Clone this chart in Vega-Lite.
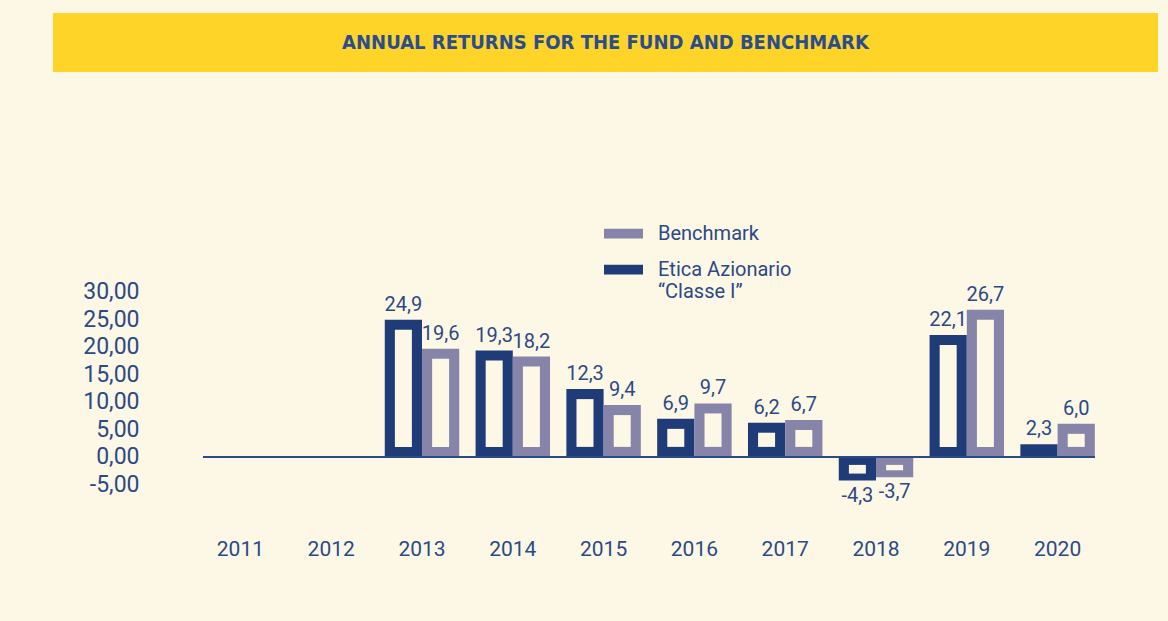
{
  "$schema": "https://vega.github.io/schema/vega-lite/v6.json",
  "background": "#fdf7e6",
  "padding": {"left": 53, "top": 13, "right": 10, "bottom": 64},
  "spacing": 142,
  "config": {
    "locale": {"number": {"decimal": ",", "thousands": ".", "grouping": [3], "currency": ["", " €"], "minus": "-"}},
    "view": {"stroke": null},
    "font": "Roboto",
    "axisY": {"labelOverlap": false}
  },
  "resolve": {"legend": {"color": "independent"}},
  "vconcat": [
    {
      "width": 1105,
      "height": 59,
      "view": {"fill": "#fed429", "stroke": null},
      "data": {"values": [{"t": "ANNUAL RETURNS FOR THE FUND AND BENCHMARK"}]},
      "mark": {"type": "text", "font": "DejaVu Sans Condensed", "fontSize": 20, "fontWeight": "bold", "color": "#2b4d8e"},
      "encoding": {"text": {"field": "t"}}
    },
    {
      "width": 1105,
      "height": 248,
      "data": {"values": [
        {"year": "2013", "series": "Etica Azionario \"Classe I\"", "value": 24.9},
        {"year": "2013", "series": "Benchmark", "value": 19.6},
        {"year": "2014", "series": "Etica Azionario \"Classe I\"", "value": 19.3},
        {"year": "2014", "series": "Benchmark", "value": 18.2},
        {"year": "2015", "series": "Etica Azionario \"Classe I\"", "value": 12.3},
        {"year": "2015", "series": "Benchmark", "value": 9.4},
        {"year": "2016", "series": "Etica Azionario \"Classe I\"", "value": 6.9},
        {"year": "2016", "series": "Benchmark", "value": 9.7},
        {"year": "2017", "series": "Etica Azionario \"Classe I\"", "value": 6.2},
        {"year": "2017", "series": "Benchmark", "value": 6.7},
        {"year": "2018", "series": "Etica Azionario \"Classe I\"", "value": -4.3},
        {"year": "2018", "series": "Benchmark", "value": -3.7},
        {"year": "2019", "series": "Etica Azionario \"Classe I\"", "value": 22.1},
        {"year": "2019", "series": "Benchmark", "value": 26.7},
        {"year": "2020", "series": "Etica Azionario \"Classe I\"", "value": 2.3},
        {"year": "2020", "series": "Benchmark", "value": 6.0}
      ]},
      "encoding": {
        "x": {"field": "year", "type": "nominal", "title": null,
          "scale": {"domain": ["2011","2012","2013","2014","2015","2016","2017","2018","2019","2020"], "range": [142, 1050], "paddingInner": 0.18, "paddingOuter": 0.09},
          "axis": {"labelAngle": 0, "domain": false, "ticks": false, "labelFontSize": 21, "labelColor": "#2b4a86", "labelPadding": 26, "labelBaseline": "top"}},
        "xOffset": {"field": "series", "type": "nominal", "scale": {"domain": ["Etica Azionario \"Classe I\"", "Benchmark"], "paddingInner": 0, "paddingOuter": 0}},
        "y": {"field": "value", "type": "quantitative", "title": null,
          "scale": {"domain": [-10, 35], "nice": false, "zero": false},
          "axis": {"values": [-5, 0, 5, 10, 15, 20, 25, 30], "format": ".2f", "offset": -142, "domain": false, "ticks": false, "grid": false, "labelFontSize": 23, "labelColor": "#2b4a86", "labelPadding": 56, "labelOverlap": false}}
      },
      "layer": [
        {
          "mark": {"type": "bar"},
          "encoding": {
            "y2": {"datum": 0},
            "color": {"field": "series", "type": "nominal", "title": null,
              "scale": {"domain": ["Benchmark", "Etica Azionario \"Classe I\""], "range": ["#8684a8", "#1f3c78"]},
              "legend": {"orient": "none", "legendX": 551, "legendY": -50, "symbolType": "M-1,-0.25H1V0.25H-1Z", "symbolSize": 1521, "symbolStrokeWidth": 0, "labelFontSize": 20, "labelColor": "#2b4a86", "labelOffset": 15, "rowPadding": 6, "labelLimit": 300,
                "labelExpr": "datum.label == 'Benchmark' ? datum.label : ['Etica Azionario', '“Classe I”']"}}
          }
        },
        {
          "transform": [{"filter": "datum.value > 3"}],
          "mark": {"type": "bar", "color": "#fdf7e6", "width": 17, "yOffset": 10, "y2Offset": -10},
          "encoding": {"y2": {"datum": 0}}
        },
        {
          "transform": [{"filter": "datum.value < -3"}],
          "mark": {"type": "bar", "color": "#fdf7e6", "width": 17, "yOffset": -7, "y2Offset": 8},
          "encoding": {"y2": {"datum": 0}}
        },
        {
          "mark": {"type": "rule", "color": "#2b4a86", "strokeWidth": 2},
          "encoding": {
            "y": {"datum": 0},
            "x": {"datum": "2011", "bandPosition": 0},
            "x2": {"datum": "2020", "bandPosition": 1},
            "xOffset": null
          }
        },
        {
          "transform": [{"filter": "datum.value >= 0"}],
          "mark": {"type": "text", "baseline": "bottom", "dy": -5, "fontSize": 20, "color": "#2b4a86"},
          "encoding": {"text": {"field": "value", "type": "quantitative", "format": ".1f"}}
        },
        {
          "transform": [{"filter": "datum.value < 0"}],
          "mark": {"type": "text", "baseline": "top", "dy": 5, "fontSize": 20, "color": "#2b4a86"},
          "encoding": {"text": {"field": "value", "type": "quantitative", "format": ".1f"}}
        }
      ]
    }
  ]
}
